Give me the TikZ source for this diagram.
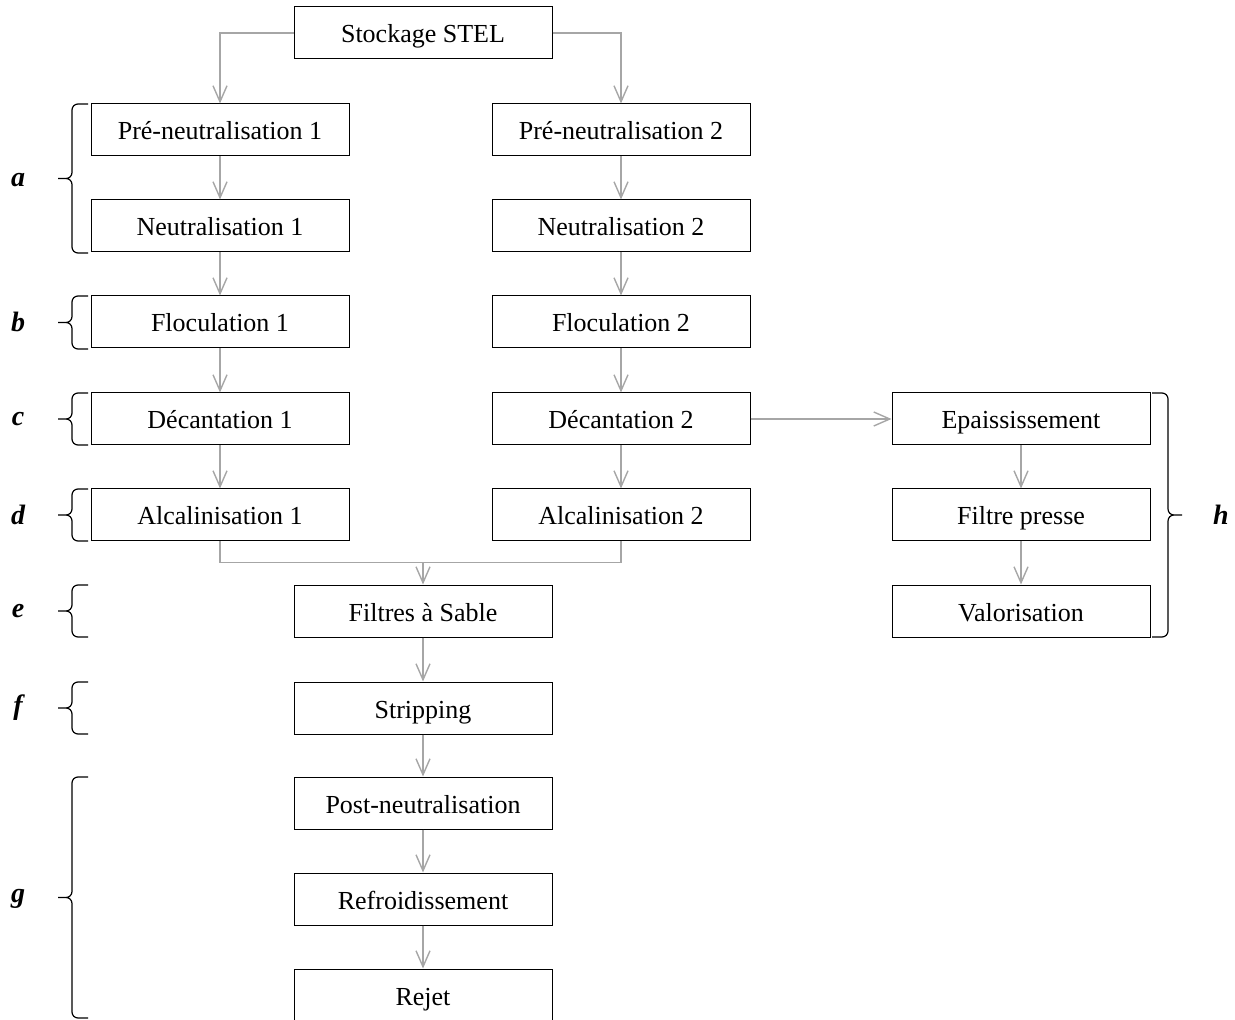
\documentclass[tikz,border=0pt]{standalone}
\usepackage{fontspec}
\setmainfont{Liberation Serif}
\usetikzlibrary{arrows.meta,calc}
\definecolor{fluxgris}{RGB}{166,166,166}
\tikzset{
	etape/.style={draw, line width=0.5pt, minimum width=129pt, minimum height=26pt, inner sep=0pt, text height=12pt, text depth=2pt, font=\fontsize{13}{15}\selectfont},
	flux/.style={draw=fluxgris, line width=0.7pt, -{Straight Barb[length=8pt,width=7pt]}},
	lien/.style={draw=fluxgris, line width=0.7pt},
	% accolade : #1 = -1 vers la gauche, 1 vers la droite
	accolade/.style={line width=0.6pt, rounded corners=3pt,
		to path={-- ++(#1*8pt,0) |- ($(\tikztostart)!.5!(\tikztotarget)+(#1*15pt,0)$)
			(\tikztotarget) -- ++(#1*8pt,0) |- ($(\tikztostart)!.5!(\tikztotarget)+(#1*15pt,0)$)}},
	accolade/.default=-1,
	lettre/.style={font=\fontsize{14}{16}\selectfont\bfseries\itshape}
}
\begin{document}
\begin{tikzpicture}[x=0.5pt,y=-0.5pt]
	\useasboundingbox (0,0) rectangle (1235,1020);
	% etapes
	\node[etape] (stock) at (423,33) {Stockage STEL};
	\node[etape] (pn1) at (220,130) {Pré-neutralisation 1};
	\node[etape] (pn2) at (621,130) {Pré-neutralisation 2};
	\node[etape] (n1) at (220,226) {Neutralisation 1};
	\node[etape] (n2) at (621,226) {Neutralisation 2};
	\node[etape] (f1) at (220,322) {Floculation 1};
	\node[etape] (f2) at (621,322) {Floculation 2};
	\node[etape] (d1) at (220,419) {Décantation 1};
	\node[etape] (d2) at (621,419) {Décantation 2};
	\node[etape] (a1) at (220,515) {Alcalinisation 1};
	\node[etape] (a2) at (621,515) {Alcalinisation 2};
	\node[etape] (fs) at (423,611) {Filtres à Sable};
	\node[etape] (strip) at (423,708) {Stripping};
	\node[etape] (post) at (423,803) {Post-neutralisation};
	\node[etape] (refr) at (423,899) {Refroidissement};
	\node[etape] (rejet) at (423,995) {Rejet};
	\node[etape] (epais) at (1021,419) {Epaississement};
	\node[etape] (fp) at (1021,515) {Filtre presse};
	\node[etape] (valo) at (1021,611) {Valorisation};
	
	% liaisons
	\draw[flux] (stock.west) -| (pn1.north);
	\draw[flux] (stock.east) -| (pn2.north);
	\foreach \a/\b in {pn1/n1, n1/f1, f1/d1, d1/a1, pn2/n2, n2/f2, f2/d2, d2/a2, fs/strip, strip/post, post/refr, refr/rejet, d2/epais, epais/fp, fp/valo}
		\draw[flux] (\a) -- (\b);
	\coordinate (jonction) at ([yshift=11pt]fs.north);
	\draw[lien] (a1.south) |- (jonction) -| (a2.south);
	\draw[flux] (jonction) -- (fs.north);
	
	% accolades
	\draw[accolade] (88,104) to (88,253);
	\draw[accolade] (88,296) to (88,349);
	\draw[accolade] (88,393) to (88,445);
	\draw[accolade] (88,489) to (88,541);
	\draw[accolade] (88,585) to (88,637);
	\draw[accolade] (88,682) to (88,734);
	\draw[accolade] (88,777) to (88,1018);
	\draw[accolade=1] (1152,393) to (1152,637);
	\node[lettre] (la) at (18,180) {a};
	\node[lettre] (lb) at (18,322) {b};
	\node[lettre] (lc) at (18,419) {c};
	\node[lettre] (ld) at (18,515) {d};
	\node[lettre] (le) at (18,611) {e};
	\node[lettre] (lf) at (18,708) {f};
	\node[lettre] (lg) at (18,899) {g};
	\node[lettre] (lh) at (1221,515) {h};
\end{tikzpicture}
\end{document}
